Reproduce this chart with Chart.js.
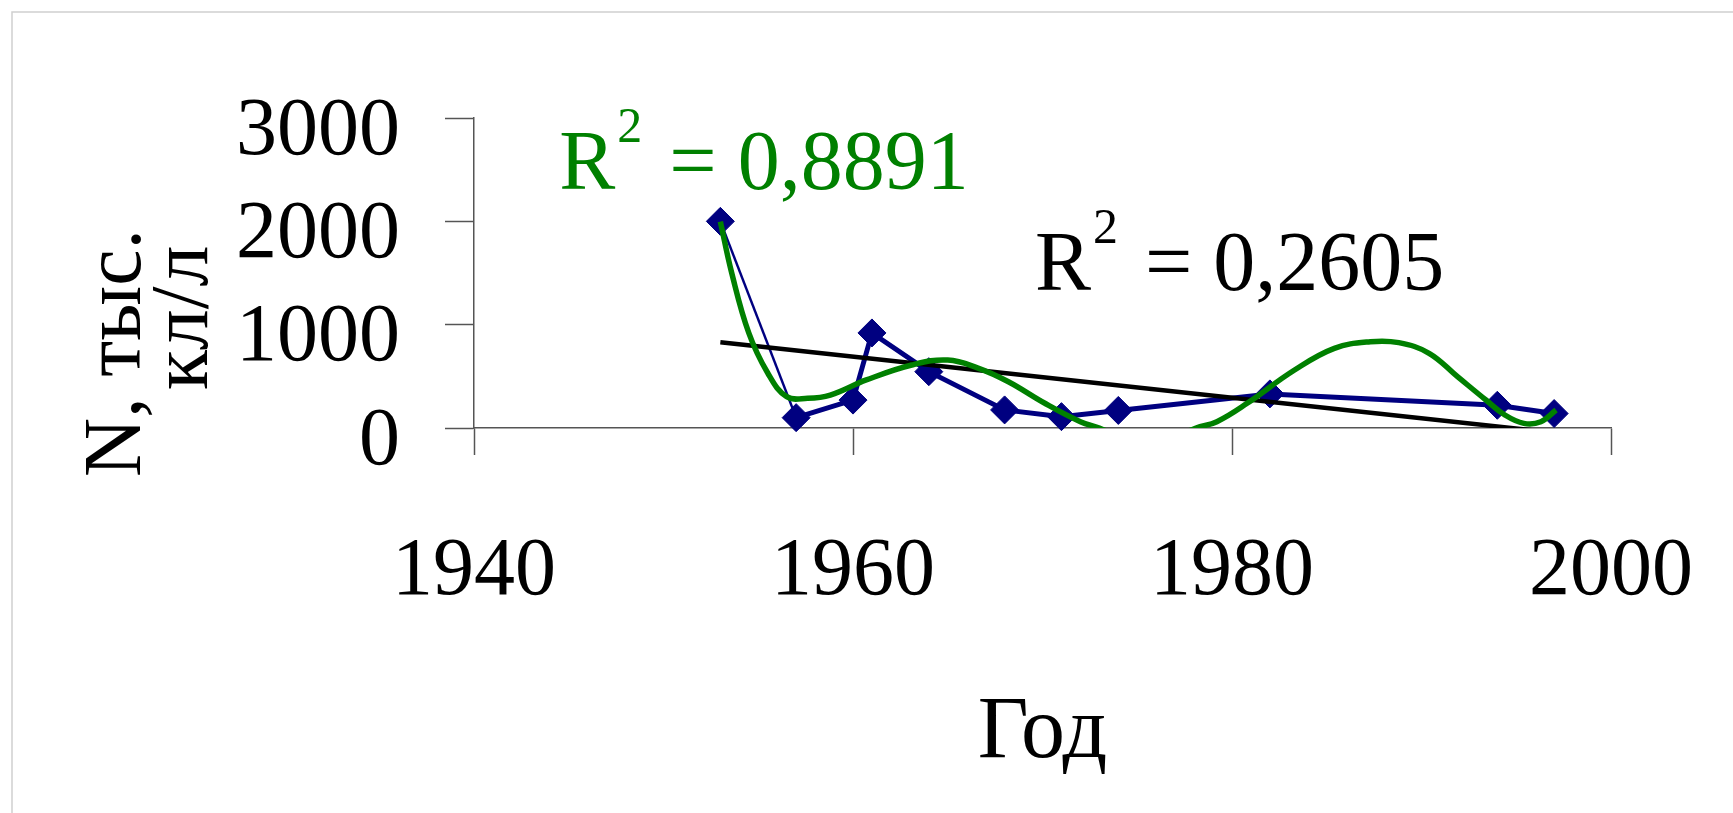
<!DOCTYPE html>
<html>
<head>
<meta charset="utf-8">
<script src="https://cdn.jsdelivr.net/npm/chart.js@4.4.1/dist/chart.umd.min.js"></script>
<style>
  html, body { margin: 0; padding: 0; background: #fff; }
</style>
</head>
<body>
<canvas id="chart" width="1733" height="813"></canvas>
<script>
// observed series (year, N thousand cells per litre)
const years = [1953, 1957, 1960, 1961, 1964, 1968, 1971, 1974, 1982, 1994, 1997];
const values = [2000, 100, 270, 920, 545, 175, 110, 170, 330, 220, 140];

// linear trendline (goes under the axis at the end)
const linTrendX = [1953, 1997];
const linTrendY = [830, -45];

// polynomial trendline
const polyTrendX = [1953, 1953.6, 1954.5, 1955.5, 1956.5, 1957.6, 1958.8, 1960.7, 1963.1, 1965, 1966.6, 1968.2,
                    1970.1, 1972, 1973, 1975.5, 1978.1, 1979.2, 1980.8, 1983.3, 1985.4, 1987.3, 1988.8, 1990.4,
                    1991.9, 1993.4, 1994.4, 1995.4, 1996.3, 1997.1];
const polyTrendY = [1997, 1500, 920, 532, 303, 287, 319, 465, 610, 658, 580, 448,
                    242, 61, 0, -180, 0, 61, 239, 561, 771, 835, 826, 723,
                    497, 271, 126, 45, 61, 174];

const xTicks = [1940, 1960, 1980, 2000];
const yTicks = [0, 1000, 2000, 3000];
const r2Poly = '0,8891';
const r2Linear = '0,2605';

const serif = '"Liberation Serif", "Times New Roman", serif';
Chart.defaults.font.family = serif;

function toPoints(xs, ys) {
    return xs.map((x, i) => ({ x: x, y: ys[i] }));
}

// R² text with a raised 2
function drawR2(ctx, px, py, value, color) {
    ctx.fillStyle = color;
    ctx.textAlign = 'left';
    ctx.textBaseline = 'alphabetic';
    ctx.font = '84px ' + serif;
    ctx.fillText('R', px, py);
    const w1 = ctx.measureText('R').width;
    ctx.font = '50px ' + serif;
    ctx.fillText('2', px + w1 + 2, py - 47);
    const w2 = ctx.measureText('2').width;
    ctx.font = '84px ' + serif;
    ctx.fillText(' = ' + value, px + w1 + w2 + 8, py);
}

const textPlugin = {
    id: 'texts',
    beforeDraw(chart) {
        const ctx = chart.ctx;
        ctx.save();
        ctx.fillStyle = '#fff';
        ctx.fillRect(0, 0, chart.width, chart.height);
        // faint frame of the slide
        ctx.strokeStyle = '#d0d0d0';
        ctx.lineWidth = 1.5;
        ctx.beginPath();
        ctx.moveTo(12, chart.height);
        ctx.lineTo(12, 12);
        ctx.lineTo(chart.width, 12);
        ctx.stroke();
        ctx.restore();
    },
    afterDraw(chart) {
        const ctx = chart.ctx;
        const xs = chart.scales.x, ys = chart.scales.y;
        ctx.save();
        drawR2(ctx, xs.getPixelForValue(1944.5), ys.getPixelForValue(2313), r2Poly, '#008000');
        drawR2(ctx, xs.getPixelForValue(1969.6), ys.getPixelForValue(1336), r2Linear, '#000000');

        // rotated two-line y title
        ctx.fillStyle = '#000';
        ctx.font = '82px ' + serif;
        ctx.textAlign = 'left';
        ctx.textBaseline = 'alphabetic';
        ctx.save();
        ctx.translate(140, 477);
        ctx.rotate(-Math.PI / 2);
        ctx.fillText('N, тыс.', 0, 0);
        ctx.restore();
        ctx.save();
        ctx.translate(207, 390);
        ctx.rotate(-Math.PI / 2);
        ctx.fillText('кл/л', 0, 0);
        ctx.restore();
        ctx.restore();
    }
};

new Chart(document.getElementById('chart'), {
    type: 'scatter',
    data: {
        datasets: [
            {
                label: 'Полином',
                data: toPoints(polyTrendX, polyTrendY),
                showLine: true,
                borderColor: '#008000',
                borderWidth: 5.5,
                tension: 0.4,
                pointRadius: 0,
                clip: 0,
                order: 0
            },
            {
                label: 'Линейный',
                data: toPoints(linTrendX, linTrendY),
                showLine: true,
                borderColor: '#000000',
                borderWidth: 4.5,
                pointRadius: 0,
                clip: 0,
                order: 1
            },
            {
                label: 'N',
                data: toPoints(years, values),
                showLine: true,
                borderColor: '#000080',
                backgroundColor: '#000080',
                borderWidth: 5,
                // the steep first drop looks thin in the original
                segment: { borderWidth: c => c.p0DataIndex === 0 ? 2.5 : 5 },
                pointStyle: 'rectRot',
                pointRadius: 14,
                pointBorderWidth: 1,
                clip: false,
                order: 2
            }
        ]
    },
    options: {
        responsive: false,
        animation: false,
        layout: { padding: { top: 118, right: 122, left: 0, bottom: 0 } },
        plugins: {
            legend: { display: false },
            tooltip: { enabled: false }
        },
        scales: {
            x: {
                type: 'linear',
                min: xTicks[0],
                max: xTicks[xTicks.length - 1],
                afterFit(s) { s.height = 385; s.paddingLeft = 0; s.paddingRight = 0; },
                afterBuildTicks(s) { s.ticks = xTicks.map(v => ({ value: v })); },
                ticks: {
                    padding: 68,
                    color: '#000',
                    font: { size: 82 },
                    callback: v => String(v)
                },
                grid: { drawOnChartArea: false, tickLength: 27, tickColor: '#555', tickWidth: 1.5 },
                border: { display: true, color: '#555', width: 1.5 },
                title: {
                    display: true,
                    text: 'Год',
                    color: '#000',
                    font: { size: 88 },
                    padding: { top: 0, bottom: 26 }
                }
            },
            y: {
                min: yTicks[0],
                max: yTicks[yTicks.length - 1],
                afterFit(s) { s.width = 474; s.paddingTop = 0; s.paddingBottom = 0; },
                afterBuildTicks(s) { s.ticks = yTicks.map(v => ({ value: v })); },
                ticks: {
                    padding: 45,
                    labelOffset: 14,
                    color: '#000',
                    font: { size: 82 },
                    callback: v => String(v)
                },
                grid: { drawOnChartArea: false, tickLength: 29, tickColor: '#555', tickWidth: 1.5 },
                border: { display: true, color: '#555', width: 1.5 }
            }
        }
    },
    plugins: [textPlugin]
});
</script>
</body>
</html>
